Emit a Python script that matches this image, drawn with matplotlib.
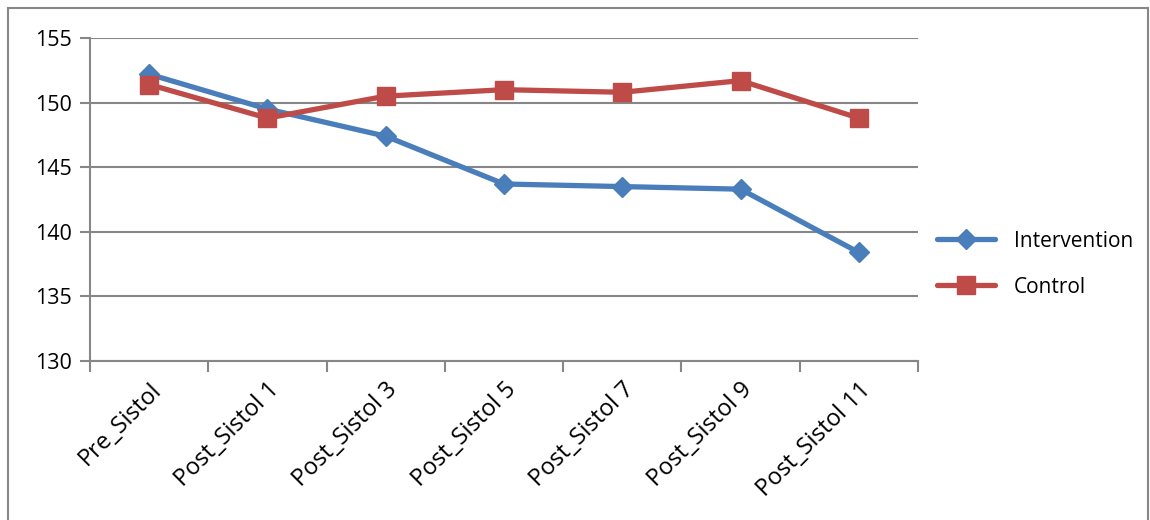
import matplotlib.pyplot as plt
from matplotlib.patches import Rectangle
import numpy as np

# category labels and measured systolic values
labels = ["Pre_Sistol", "Post_Sistol 1", "Post_Sistol 3", "Post_Sistol 5",
          "Post_Sistol 7", "Post_Sistol 9", "Post_Sistol 11"]
intervention = [152.2, 149.5, 147.4, 143.7, 143.5, 143.3, 138.4]
control = [151.4, 148.8, 150.5, 151.0, 150.8, 151.7, 148.8]
y_ticks = [130, 135, 140, 145, 150, 155]

plt.rcParams['font.family'] = ['Open Sans', 'DejaVu Sans']

fig = plt.figure(figsize=(11.5, 5.2), dpi=100)
# chart frame
fig.patches.append(Rectangle((8 / 1150, -0.05), 1140 / 1150, 1.05 - 8 / 520,
                             transform=fig.transFigure, fill=False,
                             edgecolor="#878787", linewidth=1.5))

ax = fig.add_axes([90 / 1150, 159 / 520, 828 / 1150, 323 / 520])
x = np.arange(len(labels))

ax.plot(x, intervention, color="#4A7EBB", linewidth=3.8, marker="D",
        markersize=10, label="Intervention", solid_capstyle="round")
ax.plot(x, control, color="#BE4B48", linewidth=3.8, marker="s",
        markersize=13, label="Control", solid_capstyle="round")

ax.set_xlim(-0.5, len(labels) - 0.5)
ax.set_ylim(130, 155)
ax.set_yticks(y_ticks)
ax.set_yticklabels([str(v) for v in y_ticks], fontsize=15.5)
ax.grid(axis="y", color="#878787", linewidth=1.5)
ax.set_axisbelow(True)

ax.set_xticks(x)
ax.set_xticklabels(labels, rotation=45, ha="right", rotation_mode="anchor",
                   fontsize=17)
ax.set_xticks(np.arange(-0.5, len(labels)), minor=True)
ax.tick_params(axis="x", which="major", length=0, pad=12)
ax.tick_params(axis="x", which="minor", length=8, width=1.5, color="#878787")
ax.tick_params(axis="y", length=7, width=1.5, color="#878787", pad=6)

for side in ["top", "right"]:
    ax.spines[side].set_visible(False)
for side in ["left", "bottom"]:
    ax.spines[side].set_color("#878787")
    ax.spines[side].set_linewidth(1.5)

ax.legend(loc="center left", bbox_to_anchor=(1.0, 0.30), frameon=False,
          fontsize=15, handlelength=2.8, handletextpad=0.9, labelspacing=1.2)

fig.savefig("out.png", dpi=100)
